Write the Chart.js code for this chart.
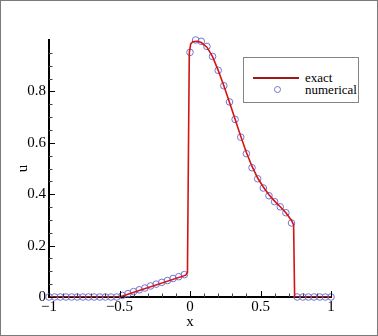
<!DOCTYPE html>
<html>
<head>
<meta charset="utf-8">
<script src="https://cdn.jsdelivr.net/npm/chart.js@4.4.1/dist/chart.umd.min.js"></script>
<style>
  body { margin: 0; background: #fff; }
  #wrap { position: relative; width: 378px; height: 336px; }
  #legend {
    position: absolute; left: 243px; top: 57px; width: 114px; height: 44px;
    border: 1px solid #858585; background: #fff;
    font-family: "Liberation Serif", serif; font-size: 13px; color: #000;
  }
  #legend .txt { position: absolute; left: 61px; line-height: 13px; white-space: nowrap; }
</style>
</head>
<body>
<div id="wrap">
  <canvas id="chart" width="378" height="336"></canvas>
  <div id="legend"></div>
</div>
<script>
// exact solution (polyline)
const exactX = [-1, -0.5, -0.03, -0.018, -0.012, -0.005, 0.005, 0.02, 0.05, 0.08, 0.12, 0.16, 0.2, 0.24, 0.28, 0.32, 0.36, 0.4, 0.44, 0.48, 0.52, 0.56, 0.6, 0.64, 0.68, 0.72, 0.735, 0.742, 1];
const exactU = [0, 0, 0.085, 0.096, 0.5, 0.95, 0.985, 0.993, 0.995, 0.99, 0.972, 0.935, 0.882, 0.822, 0.758, 0.692, 0.625, 0.562, 0.508, 0.463, 0.428, 0.398, 0.373, 0.351, 0.328, 0.298, 0.28, 0, 0];

// numerical solution (circles)
const numX = [-1, -0.96, -0.92, -0.88, -0.84, -0.8, -0.76, -0.72, -0.68, -0.64, -0.6, -0.56, -0.52,
  -0.48, -0.44, -0.4, -0.36, -0.32, -0.28, -0.24, -0.2, -0.16, -0.12, -0.08, -0.04,
  0, 0.04, 0.08, 0.12, 0.16, 0.2, 0.24, 0.28, 0.32, 0.36, 0.4, 0.44, 0.48, 0.52, 0.56, 0.6, 0.64, 0.68, 0.72,
  0.76, 0.8, 0.84, 0.88, 0.92, 0.96, 1];
const numU = [0, 0, 0, 0, 0, 0, 0, 0, 0, 0, 0, 0, 0,
  0.006, 0.013, 0.021, 0.028, 0.035, 0.043, 0.05, 0.057, 0.064, 0.072, 0.079, 0.087,
  0.952, 1.0, 0.995, 0.975, 0.936, 0.882, 0.822, 0.759, 0.691, 0.622, 0.558, 0.503, 0.46, 0.424, 0.394, 0.371, 0.351, 0.328, 0.288,
  0, 0, 0, 0, 0, 0, 0];

// tick positions
const xMajor = [-1, -0.5, 0, 0.5, 1];
const xMinor = [-0.9, -0.8, -0.7, -0.6, -0.4, -0.3, -0.2, -0.1, 0.1, 0.2, 0.3, 0.4, 0.6, 0.7, 0.8, 0.9];
const yMajor = [0, 0.2, 0.4, 0.6, 0.8];
const yMinor = [0.05, 0.1, 0.15, 0.25, 0.3, 0.35, 0.45, 0.5, 0.55, 0.65, 0.7, 0.75, 0.85, 0.9, 0.95];

const LINE_COLOR = "#d41414";
const CIRCLE_COLOR = "#7474d4";
const FONT = "'Liberation Serif', 'Times New Roman', serif";

const fmt = v => String(+v.toFixed(2)).replace("-", "\u2212");

// ticks drawn inward + outer frame
const ticksAndFrame = {
  id: "ticksAndFrame",
  beforeDraw(chart) {
    const c = chart.ctx;
    c.save();
    c.fillStyle = "#fff";
    c.fillRect(0, 0, chart.width, chart.height);
    c.restore();
  },
  afterDraw(chart) {
    const { ctx, chartArea, scales } = chart;
    const sx = scales.x, sy = scales.y;
    ctx.save();
    ctx.strokeStyle = "#000";
    ctx.lineWidth = 1;
    ctx.beginPath();
    xMajor.forEach(v => {
      const p = Math.round(sx.getPixelForValue(v)) + 0.5;
      ctx.moveTo(p, chartArea.bottom); ctx.lineTo(p, chartArea.bottom - 6);
    });
    yMajor.forEach(v => {
      const p = Math.round(sy.getPixelForValue(v)) + 0.5;
      ctx.moveTo(chartArea.left, p); ctx.lineTo(chartArea.left + 6, p);
    });
    ctx.stroke();
    ctx.strokeStyle = "#444";
    ctx.beginPath();
    xMinor.forEach(v => {
      const p = Math.round(sx.getPixelForValue(v)) + 0.5;
      ctx.moveTo(p, chartArea.bottom); ctx.lineTo(p, chartArea.bottom - 3.5);
    });
    yMinor.forEach(v => {
      const p = Math.round(sy.getPixelForValue(v)) + 0.5;
      ctx.moveTo(chartArea.left, p); ctx.lineTo(chartArea.left + 3.5, p);
    });
    ctx.stroke();
    // frame round the picture
    ctx.strokeStyle = "#7a7a7a";
    ctx.strokeRect(0.5, 0.5, chart.width - 1, chart.height - 1);
    ctx.restore();
  }
};

const chart = new Chart(document.getElementById("chart"), {
  type: "line",
  data: {
    datasets: [
      {
        label: "exact",
        data: exactX.map((x, i) => ({ x, y: exactU[i] })),
        borderColor: LINE_COLOR,
        borderWidth: 1.6,
        pointRadius: 0,
        tension: 0,
        fill: false,
        order: 1
      },
      {
        label: "numerical",
        data: numX.map((x, i) => ({ x, y: numU[i] })),
        showLine: false,
        pointStyle: "circle",
        pointRadius: 3.3,
        pointBorderWidth: 1,
        pointBorderColor: CIRCLE_COLOR,
        pointBackgroundColor: "rgba(0,0,0,0)",
        borderColor: CIRCLE_COLOR,
        clip: false,
        order: 2
      }
    ]
  },
  options: {
    responsive: false,
    animation: false,
    layout: { padding: { top: 40, right: 47, bottom: 0, left: 0 } },
    plugins: {
      legend: { display: false },
      tooltip: { enabled: false }
    },
    scales: {
      x: {
        type: "linear",
        min: -1,
        max: 1,
        afterFit: s => { s.height = 39; },
        afterBuildTicks: s => { s.ticks = xMajor.map(v => ({ value: v })); },
        ticks: {
          color: "#000",
          padding: 1,
          maxRotation: 0,
          autoSkip: false,
          font: { family: FONT, size: 15 },
          callback: v => fmt(v)
        },
        grid: { display: false, drawTicks: false },
        border: { display: true, color: "#000", width: 2 },
        title: {
          display: true,
          text: "x",
          color: "#000",
          font: { family: FONT, size: 15, lineHeight: 1.2 },
          padding: { top: 0, bottom: 5 }
        }
      },
      y: {
        type: "linear",
        min: 0,
        max: 1,
        afterFit: s => { s.width = 49; },
        afterBuildTicks: s => { s.ticks = yMajor.map(v => ({ value: v })); },
        ticks: {
          color: "#000",
          padding: 3,
          autoSkip: false,
          font: { family: FONT, size: 15 },
          callback: v => fmt(v)
        },
        grid: { display: false, drawTicks: false },
        border: { display: true, color: "#000", width: 2 },
        title: {
          display: true,
          text: "u",
          color: "#000",
          font: { family: FONT, size: 15, lineHeight: 1.2 },
          padding: { top: 14, bottom: 0 }
        }
      }
    }
  },
  plugins: [ticksAndFrame]
});

// legend box, built from the dataset labels
const legend = document.getElementById("legend");
const [exactDs, numDs] = chart.data.datasets;
legend.innerHTML =
  '<div style="position:absolute;left:9px;top:19px;width:46px;height:0;border-top:2px solid #a01818"></div>' +
  '<div style="position:absolute;left:30px;top:28px;width:5px;height:5px;border:1px solid ' + CIRCLE_COLOR + ';border-radius:50%"></div>' +
  '<div class="txt" style="top:13px">' + exactDs.label + '</div>' +
  '<div class="txt" style="top:25px">' + numDs.label + '</div>';
</script>
</body>
</html>
